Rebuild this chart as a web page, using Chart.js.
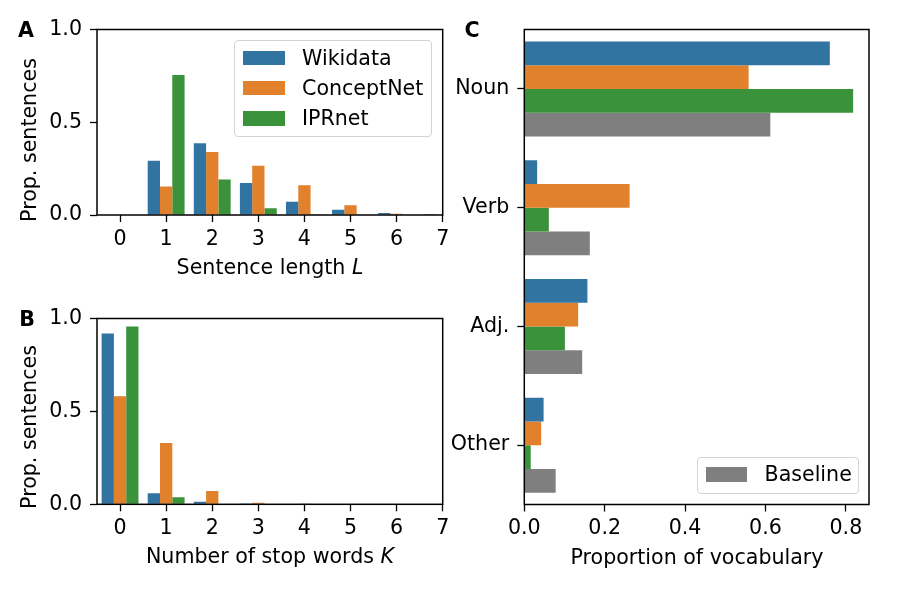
<!DOCTYPE html>
<html>
<head>
<meta charset="utf-8">
<script src="https://cdn.jsdelivr.net/npm/chart.js@4.4.0/dist/chart.umd.min.js"></script>
<style>
body { margin: 0; background: #fff; }
#fig { position: relative; width: 900px; height: 600px; overflow: hidden; font-family: "DejaVu Sans", sans-serif; color: #000; }
#fig canvas { position: absolute; left: 0; top: 0; }
.txt { position: absolute; font-size: 20.6px; line-height: 1; white-space: nowrap; transform: translate(-50%, -50%); }
.panel { font-weight: bold; }
.ylab { transform: translate(-50%, -50%) rotate(-90deg); }
.legend { position: absolute; border: 1px solid #d3d3d3; border-radius: 4px; background: rgba(255,255,255,0.8); box-sizing: border-box; z-index: 5; }
.legend .sw { position: absolute; }
.legend .lt { position: absolute; font-size: 20.6px; line-height: 1; white-space: nowrap; transform: translateY(-50%); }
</style>
</head>
<body>
<div id="fig">
  <canvas id="cA" width="900" height="600"></canvas>
  <canvas id="cB" width="900" height="600"></canvas>
  <canvas id="cC" width="900" height="600"></canvas>

  <div class="txt panel" style="left:26px;top:30px">A</div>
  <div class="txt panel" style="left:27px;top:319px">B</div>
  <div class="txt panel" style="left:472px;top:30px">C</div>

  <div class="txt ylab" style="left:29px;top:140px">Prop. sentences</div>
  <div class="txt ylab" style="left:29px;top:427px">Prop. sentences</div>
  <div class="txt" style="left:270px;top:267px">Sentence length <i>L</i></div>
  <div class="txt" style="left:270px;top:556px">Number of stop words <i>K</i></div>
  <div class="txt" style="left:697px;top:557px">Proportion of vocabulary</div>

  <div class="legend" id="legA" style="left:234px;top:40px;width:198px;height:97px"></div>
  <div class="legend" id="legC" style="left:697px;top:457px;width:162px;height:37px"></div>
</div>
<script>
// sentence length L (panel A)
const lengthTicks = [0, 1, 2, 3, 4, 5, 6, 7];
const lengthWikidata = [0, 0.293, 0.387, 0.173, 0.072, 0.028, 0.011, 0.005];
const lengthConceptNet = [0, 0.153, 0.340, 0.266, 0.160, 0.052, 0.007, 0.002];
const lengthIPRnet = [0, 0.755, 0.192, 0.036, 0.001, 0, 0, 0];

// number of stop words K (panel B)
const stopTicks = [0, 1, 2, 3, 4, 5, 6, 7];
const stopWikidata = [0.919, 0.059, 0.014, 0.002, 0, 0, 0, 0];
const stopConceptNet = [0.582, 0.330, 0.072, 0.008, 0.002, 0, 0, 0];
const stopIPRnet = [0.957, 0.038, 0.003, 0, 0, 0, 0, 0];

// part of speech (panel C)
const posLabels = ["Noun", "Verb", "Adj.", "Other"];
const posWikidata = [0.760, 0.032, 0.157, 0.048];
const posConceptNet = [0.558, 0.262, 0.134, 0.042];
const posIPRnet = [0.818, 0.061, 0.101, 0.016];
const posBaseline = [0.612, 0.163, 0.144, 0.078];

const propTicks = [0, 0.5, 1];
const vocabTicks = [0, 0.2, 0.4, 0.6, 0.8];

const names = ["Wikidata", "ConceptNet", "IPRnet", "Baseline"];
const colors = ["#3274a1", "#e1812c", "#3a923a", "#7f7f7f"];

Chart.defaults.font.family = "'DejaVu Sans', sans-serif";
Chart.defaults.font.size = 20.6;
Chart.defaults.color = "#000";

const frame = {
  id: "frame",
  afterDraw(chart) {
    const a = chart.chartArea;
    const c = chart.ctx;
    c.save();
    c.strokeStyle = "#000";
    c.lineWidth = 1.5;
    c.strokeRect(a.left, a.top, a.right - a.left, a.bottom - a.top);
    c.restore();
  },
};

const tickGrid = {
  display: true,
  drawOnChartArea: false,
  drawTicks: true,
  tickLength: 7,
  tickColor: "#000",
  tickWidth: 1.3,
  offset: false,
};

function points(xs, ys) {
  return xs.map((x, i) => ({ x: x, y: ys[i] }));
}

function bars(label, xs, ys) {
  const i = names.indexOf(label);
  return { label: label, data: points(xs, ys), backgroundColor: colors[i], borderWidth: 0, clip: 0 };
}

function histPanel(id, xs, w, c, p, top, bottom) {
  return new Chart(document.getElementById(id), {
    type: "bar",
    data: {
      datasets: [bars("Wikidata", xs, w), bars("ConceptNet", xs, c), bars("IPRnet", xs, p)],
    },
    options: {
      responsive: false,
      animation: false,
      events: [],
      devicePixelRatio: 1,
      layout: { padding: { left: 0, right: 457.3, top: top, bottom: 600 - bottom - 50 } },
      plugins: { legend: { display: false }, tooltip: { enabled: false } },
      datasets: { bar: { barPercentage: 1, categoryPercentage: 0.8 } },
      scales: {
        x: {
          type: "linear",
          min: -0.5,
          max: xs[xs.length - 1],
          offset: false,
          grid: tickGrid,
          border: { display: false },
          ticks: { stepSize: 1, includeBounds: false, padding: 5 },
          afterFit(s) { s.height = 50; },
        },
        y: {
          min: propTicks[0],
          max: propTicks[propTicks.length - 1],
          grid: tickGrid,
          border: { display: false },
          ticks: { stepSize: 0.5, includeBounds: false, padding: 8, callback: (v) => v.toFixed(1) },
          afterFit(s) { s.width = 97; },
        },
      },
    },
    plugins: [frame],
  });
}

histPanel("cA", lengthTicks, lengthWikidata, lengthConceptNet, lengthIPRnet, 29.5, 215);
histPanel("cB", stopTicks, stopWikidata, stopConceptNet, stopIPRnet, 318.5, 504.3);

const posSeries = [posWikidata, posConceptNet, posIPRnet, posBaseline];
new Chart(document.getElementById("cC"), {
  type: "bar",
  data: {
    labels: posLabels,
    datasets: posSeries.map((d, i) => ({
      label: names[i], data: d, backgroundColor: colors[i], borderWidth: 0,
    })),
  },
  options: {
    indexAxis: "y",
    responsive: false,
    animation: false,
    events: [],
    devicePixelRatio: 1,
    layout: { padding: { left: 0, right: 31, top: 29.5, bottom: 600 - 504.5 - 50 } },
    plugins: { legend: { display: false }, tooltip: { enabled: false } },
    datasets: { bar: { barPercentage: 1, categoryPercentage: 0.8 } },
    scales: {
      x: {
        type: "linear",
        min: 0,
        max: 0.8575,
        grid: tickGrid,
        border: { display: false },
        ticks: { stepSize: 0.2, includeBounds: false, padding: 5, callback: (v) => v.toFixed(1) },
        afterFit(s) { s.height = 50; },
      },
      y: {
        type: "category",
        offset: true,
        grid: tickGrid,
        border: { display: false },
        ticks: { padding: 8 },
        afterFit(s) { s.width = 524.3; },
      },
    },
  },
  plugins: [frame],
});

// legends built from the series names and colours
function legend(elId, items, swLeft, swTop, step, swW, swH, textLeft) {
  const box = document.getElementById(elId);
  items.forEach((name, k) => {
    const i = names.indexOf(name);
    const sw = document.createElement("div");
    sw.className = "sw";
    sw.style.cssText = `left:${swLeft}px;top:${swTop + k * step}px;width:${swW}px;height:${swH}px;background:${colors[i]}`;
    const t = document.createElement("div");
    t.className = "lt";
    t.textContent = name;
    t.style.cssText = `left:${textLeft}px;top:${swTop + k * step + swH / 2}px`;
    box.appendChild(sw);
    box.appendChild(t);
  });
}
legend("legA", ["Wikidata", "ConceptNet", "IPRnet"], 8, 9.5, 30.3, 42, 14.5, 67);
legend("legC", ["Baseline"], 7.5, 9.3, 0, 41, 14.3, 66.5);
</script>
</body>
</html>
